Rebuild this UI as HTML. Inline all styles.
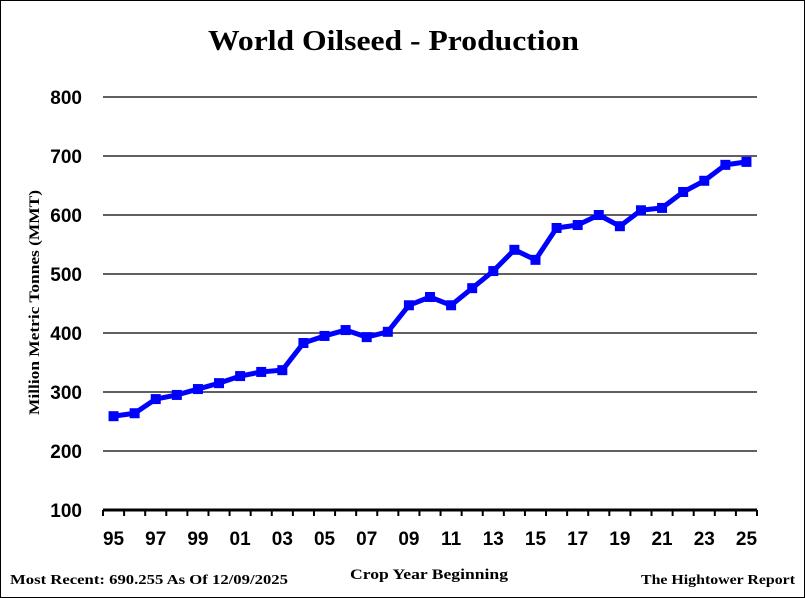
<!DOCTYPE html>
<html><head><meta charset="utf-8"><style>
html,body{margin:0;padding:0;background:#fff}
svg{display:block}
</style></head><body>
<svg id="chart" width="805" height="598" viewBox="0 0 805 598" xmlns="http://www.w3.org/2000/svg">
<rect x="0.5" y="0.5" width="804" height="597" fill="#fff" stroke="#000" stroke-width="1"/>
<text x="208" y="50" textLength="371" lengthAdjust="spacingAndGlyphs" font-family="Liberation Serif, serif" font-weight="bold" font-size="29">World Oilseed - Production</text>
<text transform="translate(39,415) rotate(-90)" textLength="225" lengthAdjust="spacingAndGlyphs" font-family="Liberation Serif, serif" font-weight="bold" font-size="15">Million Metric Tonnes (MMT)</text>
<text x="350" y="579" textLength="158" lengthAdjust="spacingAndGlyphs" font-family="Liberation Serif, serif" font-weight="bold" font-size="15">Crop Year Beginning</text>
<text x="10" y="584" textLength="278" lengthAdjust="spacingAndGlyphs" font-family="Liberation Serif, serif" font-weight="bold" font-size="14">Most Recent: 690.255 As Of 12/09/2025</text>
<text x="641" y="584" textLength="154" lengthAdjust="spacingAndGlyphs" font-family="Liberation Serif, serif" font-weight="bold" font-size="14">The Hightower Report</text>
<g id="grid"></g><g id="axes"></g><g id="series"></g>
</svg>
<script>
const years = ['95','96','97','98','99','00','01','02','03','04','05','06','07','08','09','10','11','12','13','14','15','16','17','18','19','20','21','22','23','24','25'];
const production = [259,264,288,295,305,315,327,334,337,383,395,405,393,402,447,461,447,476,505,541,524,578,583,600,581,608,612,639,658,685,690];
const yTicks = [100,200,300,400,500,600,700,800];
const NS='http://www.w3.org/2000/svg';
const x0=103,x1=757,yTop=97,yBot=510,yMin=100,yMax=800;
const bw=(x1-x0)/years.length;
const xs=i=>x0+bw*(i+0.5);
const ys=v=>yBot-(v-yMin)/(yMax-yMin)*(yBot-yTop);
function mk(tag,attrs,parent){const e=document.createElementNS(NS,tag);for(const k in attrs)e.setAttribute(k,attrs[k]);parent.appendChild(e);return e;}
const grid=document.getElementById('grid'),axes=document.getElementById('axes'),ser=document.getElementById('series');
yTicks.forEach(t=>{
  if(t>yMin){const l=mk('line',{x1:x0,x2:x1,y1:ys(t),y2:ys(t),stroke:'#000','stroke-width':1.3},grid);
  
  }
  const tx=mk('text',{x:82,y:ys(t)+7,'text-anchor':'end','font-family':'Liberation Sans, sans-serif','font-weight':'bold','font-size':19},axes);
  tx.textContent=t;
  
  
});
const ax=mk('line',{x1:x0,x2:x1,y1:yBot,y2:yBot,stroke:'#000','stroke-width':3},axes);


for(let i=0;i<=years.length;i++){
  const tk=mk('line',{x1:x0+bw*i,x2:x0+bw*i,y1:yBot,y2:yBot+6,stroke:'#000','stroke-width':2},axes);
  
  
}
years.forEach((y,i)=>{
  if(i%2===0){const tx=mk('text',{x:xs(i),y:545,'text-anchor':'middle','font-family':'Liberation Sans, sans-serif','font-weight':'bold','font-size':19},axes);
  tx.textContent=y;
  
  }
});
const pts=production.map((v,i)=>xs(i)+','+ys(v)).join(' ');
const pl=mk('polyline',{points:pts,fill:'none',stroke:'#0000ff','stroke-width':5,'stroke-linejoin':'round'},ser);


production.forEach((v,i)=>{
  const r=mk('rect',{x:xs(i)-5,y:ys(v)-5,width:10,height:10,fill:'#0000ff'},ser);
  
  
});
</script>
</body></html>
